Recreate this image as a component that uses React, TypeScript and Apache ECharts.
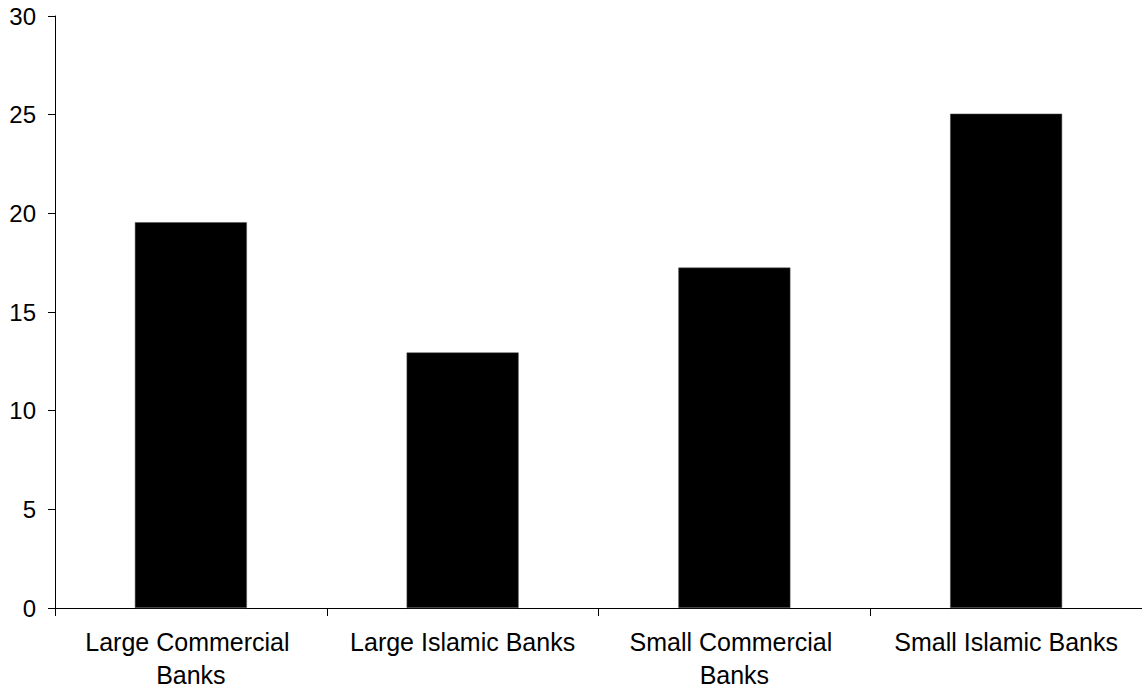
import React, { useEffect, useRef } from "react";
import * as echarts from "echarts";

const categories = [
  "Large Commercial Banks",
  "Large Islamic Banks",
  "Small Commercial Banks",
  "Small Islamic Banks",
];
const values = [19.55, 12.95, 17.25, 25.05];
const yTicks = { min: 0, max: 30, interval: 5 };

export default function App() {
  const ref = useRef<HTMLDivElement>(null);
  useEffect(() => {
    if (!ref.current) return;
    const chart = echarts.init(ref.current, null, { renderer: "svg" });
    const font = "'Liberation Sans', Arial, sans-serif";
    chart.setOption({
      animation: false,
      backgroundColor: "#ffffff",
      grid: { left: 55, top: 16, width: 1092, height: 596, containLabel: false },
      xAxis: {
        type: "category",
        data: categories,
        axisLine: { show: true, lineStyle: { color: "#000", width: 1 } },
        axisTick: { show: true, alignWithLabel: false, length: 8, lineStyle: { color: "#000" } },
        axisLabel: {
          color: "#000",
          fontFamily: font,
          fontSize: 25,
          lineHeight: 33,
          margin: 17,
          width: 240,
          overflow: "break",
          interval: 0,
        },
        splitLine: { show: false },
      },
      yAxis: {
        type: "value",
        min: yTicks.min,
        max: yTicks.max,
        interval: yTicks.interval,
        axisLine: { show: true, lineStyle: { color: "#000", width: 1 } },
        axisTick: { show: true, length: 7, lineStyle: { color: "#000" } },
        axisLabel: { color: "#000", fontFamily: font, fontSize: 24, margin: 19 },
        splitLine: { show: false },
      },
      series: [
        {
          type: "bar",
          data: values,
          barWidth: 112,
          itemStyle: { color: "#000", borderColor: "#555", borderWidth: 0.5 },
        },
      ],
    });
    return () => chart.dispose();
  }, []);
  return (
    <div
      ref={ref}
      style={{ position: "fixed", left: 0, top: 0, width: 1142, height: 691 }}
    />
  );
}
